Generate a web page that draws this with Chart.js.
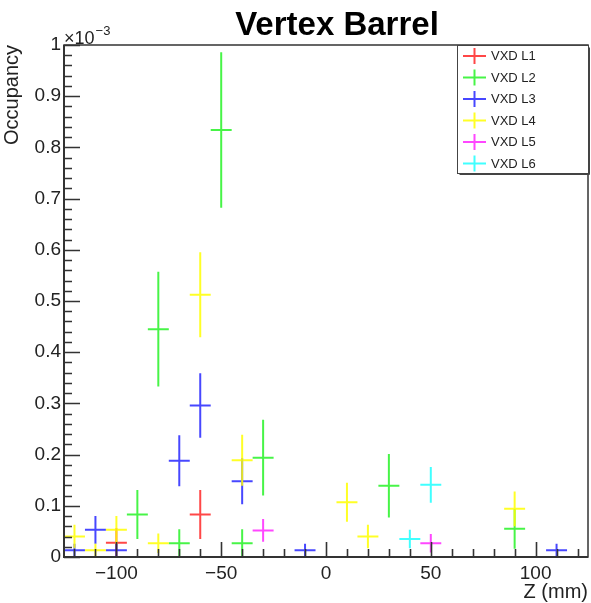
<!DOCTYPE html>
<html><head><meta charset="utf-8">
<script src="https://cdn.jsdelivr.net/npm/chart.js@4.4.1/dist/chart.umd.min.js"></script>
<style>html,body{margin:0;padding:0;background:#fff}#wrap{width:591px;height:603px}</style>
</head><body><div id="wrap"><canvas id="c" width="591" height="603"></canvas></div>
<script>
// ---- data (values in units of 1e-3) ----
const TITLE = "Vertex Barrel";
const X_TITLE = "Z (mm)";
const Y_TITLE = "Occupancy";
const Y_EXP_BASE = "\u00d710";
const Y_EXP_POW = "\u22123";
const X_TICKS = [-100, -50, 0, 50, 100];
const Y_TICKS = [0, 0.1, 0.2, 0.3, 0.4, 0.5, 0.6, 0.7, 0.8, 0.9, 1];
const LAYERS = ["VXD L1", "VXD L2", "VXD L3", "VXD L4", "VXD L5", "VXD L6"];
const BIN_HALF_WIDTH = 5;

const L1_Z = [-100, -60];
const L1_V = [0.028, 0.083];
const L1_E = [0.028, 0.048];

const L2_Z = [-90, -80, -70, -50, -40, -30, 30, 90];
const L2_V = [0.083, 0.445, 0.027, 0.834, 0.027, 0.194, 0.139, 0.055];
const L2_E = [0.048, 0.112, 0.027, 0.152, 0.027, 0.074, 0.062, 0.039];

const L3_Z = [-120, -110, -100, -70, -60, -40, -10, 110];
const L3_V = [0.013, 0.053, 0.013, 0.188, 0.296, 0.148, 0.013, 0.013];
const L3_E = [0.013, 0.027, 0.013, 0.050, 0.063, 0.045, 0.013, 0.013];

const L4_Z = [-120, -110, -100, -80, -60, -40, 10, 20, 90];
const L4_V = [0.040, 0.013, 0.053, 0.027, 0.512, 0.189, 0.107, 0.040, 0.094];
const L4_E = [0.023, 0.013, 0.027, 0.019, 0.083, 0.050, 0.038, 0.023, 0.034];

const L5_Z = [-30, 50];
const L5_V = [0.052, 0.027];
const L5_E = [0.022, 0.018];

const L6_Z = [40, 50];
const L6_V = [0.035, 0.141];
const L6_E = [0.018, 0.035];

// ---- styles ----
const COLORS = ["rgba(255,0,0,0.72)", "rgba(0,240,0,0.72)", "rgba(0,0,255,0.72)",
                "rgba(255,255,0,0.85)", "rgba(255,0,255,0.72)", "rgba(0,255,255,0.75)"];
const FONT = "'Liberation Sans', Arial, Helvetica, sans-serif";

function pts(z, v, e) { return z.map((x, i) => ({ x: x, y: v[i], e: e[i] })); }
const SERIES = [[L1_Z, L1_V, L1_E], [L2_Z, L2_V, L2_E], [L3_Z, L3_V, L3_E],
                [L4_Z, L4_V, L4_E], [L5_Z, L5_V, L5_E], [L6_Z, L6_V, L6_E]];

const datasets = SERIES.map((s, i) => ({
  label: LAYERS[i],
  data: pts(s[0], s[1], s[2]),
  borderColor: COLORS[i],
  backgroundColor: COLORS[i],
  pointRadius: 0,
  showLine: false
}));

function fmtNum(v) {
  const r = Math.round(v * 10) / 10;
  let s = (r === 0 || r === 1 || Math.abs(r) >= 10) ? String(Math.round(r)) : r.toFixed(1);
  return s.replace('-', '\u2212');
}

const errorBars = {
  id: 'errorBars',
  afterDatasetsDraw(chart) {
    const { ctx, chartArea: a, scales: { x, y } } = chart;
    ctx.save();
    ctx.beginPath();
    ctx.rect(a.left, a.top, a.right - a.left, a.bottom - a.top);
    ctx.clip();
    ctx.lineWidth = 2;
    chart.data.datasets.forEach((ds) => {
      ctx.strokeStyle = ds.borderColor;
      ds.data.forEach((p) => {
        const px = x.getPixelForValue(p.x);
        const py = y.getPixelForValue(p.y);
        ctx.beginPath();
        ctx.moveTo(x.getPixelForValue(p.x - BIN_HALF_WIDTH), py);
        ctx.lineTo(x.getPixelForValue(p.x + BIN_HALF_WIDTH), py);
        ctx.moveTo(px, y.getPixelForValue(p.y + p.e));
        ctx.lineTo(px, y.getPixelForValue(Math.max(p.y - p.e, y.min)));
        ctx.stroke();
      });
    });
    ctx.restore();
  }
};

const frameAndDecor = {
  id: 'frameAndDecor',
  afterDraw(chart) {
    const { ctx, chartArea: a, scales: { x, y } } = chart;
    ctx.save();
    // title
    ctx.fillStyle = '#000';
    ctx.font = "bold 33px " + FONT;
    ctx.textAlign = 'center';
    ctx.textBaseline = 'alphabetic';
    ctx.fillText(TITLE, 337, 35);
    // frame
    ctx.strokeStyle = '#333';
    ctx.lineWidth = 1.5;
    ctx.strokeRect(a.left, a.top, a.right - a.left, a.bottom - a.top);
    ctx.lineWidth = 2;
    ctx.beginPath();
    ctx.moveTo(a.left, a.top); ctx.lineTo(a.left, a.bottom); ctx.lineTo(a.right, a.bottom);
    ctx.stroke();
    // ticks (inside)
    ctx.lineWidth = 1.6;
    ctx.strokeStyle = '#333';
    ctx.beginPath();
    for (let v = -120; v <= 120; v += 10) {
      const px = Math.round(x.getPixelForValue(v)) + 0.5;
      const len = X_TICKS.includes(v) ? 15 : 8;
      ctx.moveTo(px, a.bottom); ctx.lineTo(px, a.bottom - len);
    }
    for (let k = 0; k <= 50; k++) {
      const v = k * 0.02;
      const py = Math.round(y.getPixelForValue(v)) + 0.5;
      const len = (k % 5 === 0) ? 16 : 8;
      ctx.moveTo(a.left, py); ctx.lineTo(a.left + len, py);
    }
    ctx.stroke();
    // exponent label
    ctx.fillStyle = '#222';
    ctx.textBaseline = 'alphabetic';
    ctx.textAlign = 'left';
    ctx.font = "18px " + FONT;
    ctx.fillText(Y_EXP_BASE, a.left, a.top - 1.5);
    const w = ctx.measureText(Y_EXP_BASE).width;
    ctx.font = "13px " + FONT;
    ctx.fillText(Y_EXP_POW, a.left + w + 1, a.top - 10);
    // legend
    const lx = 457.5, ly = 45.5, lw = 131, lh = 128;
    ctx.fillStyle = '#fff';
    ctx.fillRect(lx, ly, lw, lh);
    ctx.strokeStyle = '#444';
    ctx.lineWidth = 1;
    ctx.strokeRect(lx, ly, lw, lh);
    ctx.beginPath();
    ctx.moveTo(lx + 2, ly + lh + 1); ctx.lineTo(lx + lw + 1, ly + lh + 1); ctx.lineTo(lx + lw + 1, ly + 2);
    ctx.stroke();
    ctx.font = "13px " + FONT;
    ctx.textBaseline = 'middle';
    chart.data.datasets.forEach((ds, i) => {
      const cy = 56 + i * 21.5;
      ctx.strokeStyle = ds.borderColor;
      ctx.lineWidth = 2;
      ctx.beginPath();
      ctx.moveTo(463, cy); ctx.lineTo(486, cy);
      ctx.moveTo(474.5, cy - 8); ctx.lineTo(474.5, cy + 8);
      ctx.stroke();
      ctx.fillStyle = '#222';
      ctx.fillText(ds.label, 491, cy + 0.5);
    });
    ctx.restore();
  }
};

new Chart(document.getElementById('c'), {
  type: 'scatter',
  data: { datasets },
  options: {
    responsive: false,
    animation: false,
    devicePixelRatio: 1,
    layout: { padding: { left: 0, right: 3, top: 45, bottom: 0 } },
    plugins: {
      legend: { display: false },
      tooltip: { enabled: false },
      title: { display: false }
    },
    scales: {
      x: {
        type: 'linear', min: -125, max: 125,
        afterBuildTicks: (s) => { s.ticks = X_TICKS.map(v => ({ value: v })); },
        afterFit: (s) => { s.height = 46; },
        grid: { display: false, drawTicks: false },
        border: { display: false },
        ticks: { callback: (v) => fmtNum(v), color: '#222', padding: 5, maxRotation: 0, autoSkip: false,
                 font: { family: FONT, size: 19 } },
        title: { display: true, text: X_TITLE, align: 'end', color: '#222',
                 font: { family: FONT, size: 20, lineHeight: 1.2 }, padding: { top: 0, bottom: -1 } }
      },
      y: {
        type: 'linear', min: 0, max: 1,
        afterBuildTicks: (s) => { s.ticks = Y_TICKS.map(v => ({ value: v })); },
        afterFit: (s) => { s.width = 64; },
        grid: { display: false, drawTicks: false },
        border: { display: false },
        ticks: { callback: (v) => fmtNum(v), color: '#222', padding: 3, autoSkip: false,
                 font: { family: FONT, size: 19 } },
        title: { display: true, text: Y_TITLE, align: 'end', color: '#222',
                 font: { family: FONT, size: 20, lineHeight: 1.2 }, padding: { top: 0, bottom: 0 } }
      }
    }
  },
  plugins: [errorBars, frameAndDecor]
});
</script>
</body></html>
